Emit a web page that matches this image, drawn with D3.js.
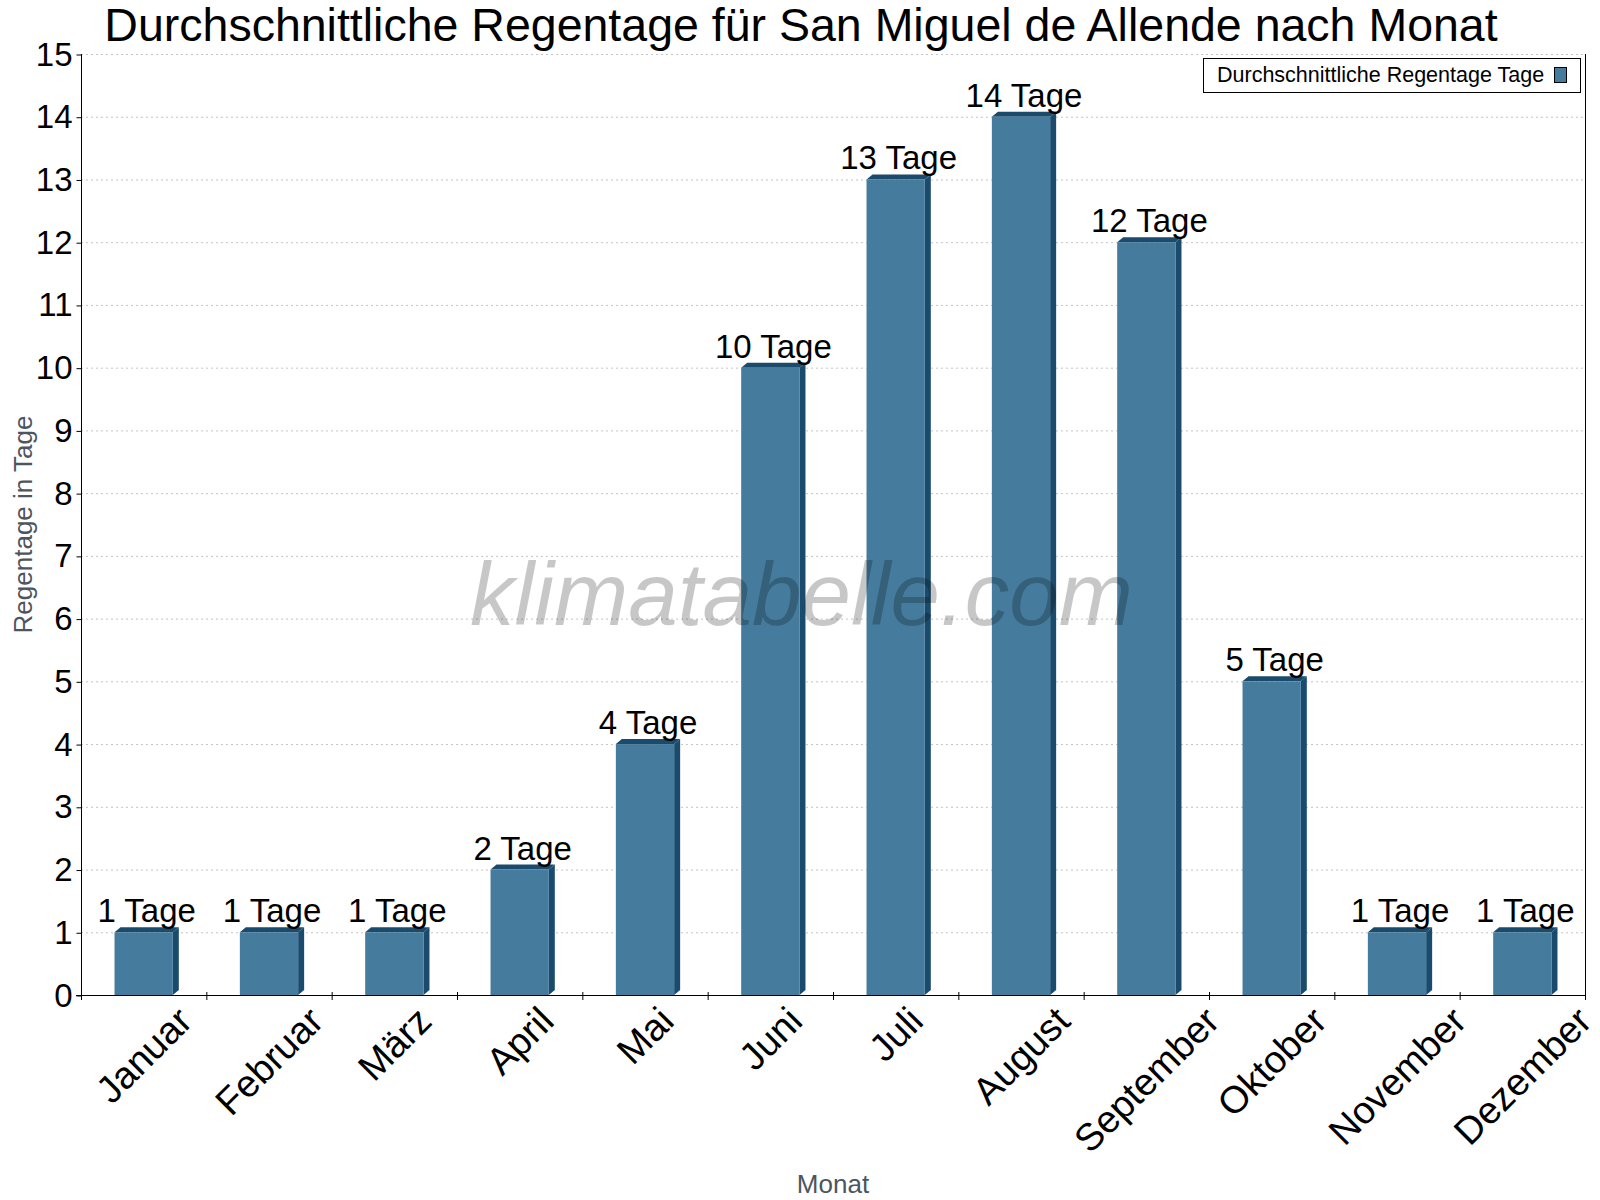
<!DOCTYPE html>
<html>
<head>
<meta charset="utf-8">
<title>Regentage San Miguel de Allende</title>
<script src="https://cdn.jsdelivr.net/npm/d3@7"></script>
<style>
  body { margin: 0; background: #fff; }
  text { font-family: "Liberation Sans", Arial, sans-serif; }
</style>
</head>
<body>
<svg id="chart"></svg>
<script>
var WIDTH = 1600;
var HEIGHT = 1200;

// data
var months = ["Januar", "Februar", "März", "April", "Mai", "Juni", "Juli",
              "August", "September", "Oktober", "November", "Dezember"];
var rainDays = [1, 1, 1, 2, 4, 10, 13, 14, 12, 5, 1, 1];
var yTicks = [0, 1, 2, 3, 4, 5, 6, 7, 8, 9, 10, 11, 12, 13, 14, 15];

var title = "Durchschnittliche Regentage für San Miguel de Allende nach Monat";
var seriesName = "Durchschnittliche Regentage Tage";
var unit = " Tage";

var LEFT = 81, RIGHT = 1585, TOP = 54, BOTTOM = 995;
var DEPTH_X = 6, DEPTH_Y = 5;
var FRONT = "#457b9d", SIDE = "#1a4b6c";

var svg = d3.select("#chart")
            .attr("width", WIDTH)
            .attr("height", HEIGHT);

var xScale = d3.scaleBand()
               .domain(months)
               .range([LEFT, RIGHT])
               .padding(0);
var yScale = d3.scaleLinear()
               .domain([0, 15])
               .range([BOTTOM, TOP]);

var barW = xScale.bandwidth() * 0.465;

// grid lines
svg.append("g")
   .selectAll("line")
   .data(yTicks.slice(1))
   .enter()
   .append("line")
   .attr("x1", LEFT)
   .attr("x2", RIGHT)
   .attr("y1", function(d){ return yScale(d) + 0.5; })
   .attr("y2", function(d){ return yScale(d) + 0.5; })
   .attr("stroke", "#c4c4c4")
   .attr("stroke-width", 1)
   .attr("stroke-dasharray", "2,3");

// bars (3d look)
var bars = svg.append("g")
              .selectAll("g")
              .data(rainDays)
              .enter()
              .append("g");

bars.append("polygon")   // side face
    .attr("fill", SIDE)
    .attr("points", function(d, i){
        var x1 = xScale(months[i]) + (xScale.bandwidth() - barW) / 2 + barW;
        var yt = yScale(d), yb = yScale(0);
        return [[x1, yt], [x1 + DEPTH_X, yt - DEPTH_Y], [x1 + DEPTH_X, yb - DEPTH_Y], [x1, yb]].join(" ");
    });
bars.append("polygon")   // top face
    .attr("fill", SIDE)
    .attr("points", function(d, i){
        var x0 = xScale(months[i]) + (xScale.bandwidth() - barW) / 2;
        var yt = yScale(d);
        return [[x0, yt], [x0 + DEPTH_X, yt - DEPTH_Y], [x0 + barW + DEPTH_X, yt - DEPTH_Y], [x0 + barW, yt]].join(" ");
    });
bars.append("rect")      // front face
    .attr("x", function(d, i){ return xScale(months[i]) + (xScale.bandwidth() - barW) / 2; })
    .attr("y", function(d){ return yScale(d); })
    .attr("width", barW)
    .attr("height", function(d){ return yScale(0) - yScale(d); })
    .attr("fill", FRONT);

// value labels
svg.append("g")
   .selectAll("text")
   .data(rainDays)
   .enter()
   .append("text")
   .attr("x", function(d, i){ return xScale(months[i]) + xScale.bandwidth() / 2 + DEPTH_X / 2; })
   .attr("y", function(d){ return yScale(d) - 10; })
   .attr("text-anchor", "middle")
   .attr("font-size", "33px")
   .attr("fill", "#000")
   .text(function(d){ return d + unit; });

// axes lines
svg.append("line")
   .attr("x1", LEFT + 0.5).attr("x2", LEFT + 0.5)
   .attr("y1", TOP).attr("y2", BOTTOM)
   .attr("stroke", "#000");
svg.append("line")
   .attr("x1", RIGHT + 0.5).attr("x2", RIGHT + 0.5)
   .attr("y1", TOP).attr("y2", BOTTOM)
   .attr("stroke", "#000");
svg.append("line")
   .attr("x1", LEFT - 5).attr("x2", RIGHT + 1)
   .attr("y1", BOTTOM + 0.5).attr("y2", BOTTOM + 0.5)
   .attr("stroke", "#000");

// y axis
var yAxis = d3.axisLeft(yScale)
              .tickValues(yTicks)
              .tickSize(5)
              .tickPadding(4)
              .tickFormat(d3.format("d"));
var gy = svg.append("g")
            .attr("transform", "translate(" + (LEFT + 0.5) + ",0.5)")
            .call(yAxis);
gy.select(".domain").remove();
gy.selectAll("line").attr("stroke", "#000");
gy.selectAll("text")
  .attr("font-family", "Liberation Sans, Arial, sans-serif")
  .attr("font-size", "33px")
  .attr("fill", "#000");

// x ticks at band edges
var edges = months.map(function(m){ return xScale(m); }).concat([RIGHT]);
svg.append("g")
   .selectAll("line")
   .data(edges)
   .enter()
   .append("line")
   .attr("x1", function(d){ return d + 0.5; })
   .attr("x2", function(d){ return d + 0.5; })
   .attr("y1", BOTTOM - 3)
   .attr("y2", BOTTOM + 5)
   .attr("stroke", "#000");

// x labels, rotated, bounding box centred under the band
var LABEL_TOP = 1004;
var xLabels = svg.append("g")
                 .selectAll("text")
                 .data(months)
                 .enter()
                 .append("text")
                 .attr("text-anchor", "middle")
                 .attr("dy", "0.35em")
                 .attr("font-size", "38px")
                 .attr("fill", "#000")
                 .text(function(d){ return d; });
xLabels.attr("transform", function(d){
    var len = this.getComputedTextLength();
    var h = 28;
    var cy = LABEL_TOP + (len + h) * Math.SQRT1_2 / 2;
    var cx = xScale(d) + xScale.bandwidth() / 2;
    return "translate(" + cx + "," + cy + ") rotate(-45)";
});

// axis titles
svg.append("text")
   .attr("x", (LEFT + RIGHT) / 2)
   .attr("y", 1193)
   .attr("text-anchor", "middle")
   .attr("font-size", "26px")
   .attr("fill", "#4d555e")
   .text("Monat");
svg.append("text")
   .attr("transform", "translate(32," + (TOP + BOTTOM) / 2 + ") rotate(-90)")
   .attr("text-anchor", "middle")
   .attr("font-size", "26px")
   .attr("fill", "#4d555e")
   .text("Regentage in Tage");

// title
svg.append("text")
   .attr("x", 801)
   .attr("y", 41)
   .attr("text-anchor", "middle")
   .attr("font-size", "46.5px")
   .attr("fill", "#000")
   .text(title);

// legend
var legend = svg.append("g");
legend.append("rect")
      .attr("x", 1203.5).attr("y", 58.5)
      .attr("width", 377).attr("height", 34)
      .attr("fill", "#fff")
      .attr("stroke", "#000");
legend.append("text")
      .attr("x", 1217)
      .attr("y", 82)
      .attr("font-size", "21.5px")
      .attr("fill", "#000")
      .text(seriesName);
legend.append("rect")
      .attr("x", 1554.5).attr("y", 67.5)
      .attr("width", 12).attr("height", 15)
      .attr("fill", FRONT)
      .attr("stroke", "#000");

// watermark
svg.append("text")
   .attr("x", 470)
   .attr("y", 625)
   .attr("font-family", "'Roboto Light', Roboto, sans-serif")
   .attr("font-style", "italic")
   .attr("font-weight", 300)
   .attr("font-size", "89px")
   .attr("fill", "rgba(0,0,0,0.22)")
   .text("klimatabelle.com");
</script>
</body>
</html>
